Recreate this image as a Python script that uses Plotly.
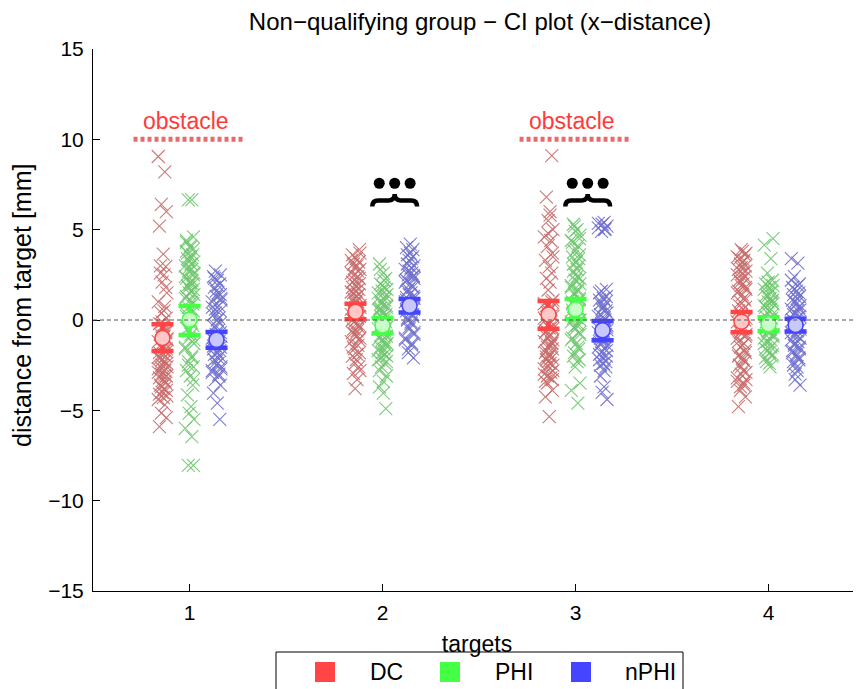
import plotly.graph_objects as go

# ---------------- data ----------------
targets = [1, 2, 3, 4]
groups = ["DC", "PHI", "nPHI"]
y_ticks = [-15, -10, -5, 0, 5, 10, 15]

dc_t1 = [9.05, 8.2, 6.4, 6.0, 5.2, 3.65, 2.95, 2.6, 2.5, 2.1, 1.5, 1.0, 0.75, 0.4, 0.1,
         -0.2, -0.4, -0.6, -0.8, -0.9, -1.0, -1.1, -1.2, -1.3, -1.5, -1.6, -1.8, -1.9, -2.0,
         -2.1, -2.3, -2.5, -2.6, -2.7, -2.8, -3.0, -3.1, -3.2, -3.3, -3.5, -3.6, -3.8, -4.0,
         -4.2, -4.4, -4.7, -5.15, -5.4, -5.9, -0.3, -0.7, -1.4, -1.7, -2.2, -2.4, -2.9,
         -3.4, -3.7, -3.9, -4.1, -4.3, 1.8, 3.0, 0.5, -0.1, -1.05, -2.05, -3.05, -2.65, -1.75]
phi_t1 = [6.65, 6.65, 4.6, 4.3, 4.0, 3.9, 3.7, 3.5, 3.3, 3.2, 3.0, 2.8, 2.7, 2.5, 2.3, 2.1,
          2.0, 1.9, 1.6, 1.5, 1.4, 1.2, 1.0, 0.7, 0.5, 0.2, 0.0, -0.3, -0.5, -0.8, -1.0,
          -1.3, -1.6, -2.0, -2.3, -2.6, -2.8, -3.1, -3.6, -4.15, -4.8, -5.15, -5.5, -6.0,
          -6.45, -8.05, -8.05, 4.4, 4.1, 3.6, 3.4, 3.1, 2.9, 2.6, 2.4, 2.2, 1.8, 1.7, 1.3,
          1.1, 0.9, 0.3, -0.1, -0.6, -1.1, -1.5, -2.1, -2.5, -3.3, 3.8, 2.0]
nphi_t1 = [2.7, 2.5, 2.4, 2.2, 2.0, 1.8, 1.5, 1.3, 1.1, 1.0, 0.8, 0.6, 0.5, 0.3, 0.0, -0.2,
           -0.4, -0.6, -0.8, -0.9, -1.0, -1.2, -1.4, -1.5, -1.6, -1.8, -2.0, -2.2, -2.4,
           -2.5, -2.6, -2.8, -3.0, -3.3, -3.6, -4.05, -4.6, -5.5, 2.3, 1.9, 1.6, 1.2, 0.7,
           0.1, -0.3, -0.7, -1.1, -1.3, -1.7, -1.9, -2.1, -2.3, -2.7, -2.9, -3.1, 0.4, 1.4,
           -1.45]

dc_t2 = [3.9, 3.6, 3.4, 3.2, 3.1, 3.0, 2.9, 2.8, 2.6, 2.4, 2.2, 2.0, 1.8, 1.6, 1.4, 1.2,
         1.1, 1.0, 0.8, 0.6, 0.5, 0.4, 0.2, 0.0, -0.2, -0.4, -0.5, -0.6, -0.8, -1.0, -1.2,
         -1.4, -1.6, -1.8, -2.0, -2.2, -2.6, -2.95, -3.3, -3.8, 3.7, 3.3, 2.7, 2.5, 2.3,
         2.1, 1.9, 1.7, 1.5, 1.3, 0.9, 0.7, 0.3, 0.1, -0.1, -0.3, -0.7, -0.9, -1.1, -1.5,
         -1.9, -2.4, -2.8, 1.55, 0.35]
phi_t2 = [3.1, 2.6, 2.3, 2.0, 1.8, 1.6, 1.4, 1.2, 1.1, 1.0, 0.8, 0.6, 0.4, 0.3, 0.2, 0.0,
          -0.2, -0.4, -0.5, -0.6, -0.8, -0.9, -1.0, -1.2, -1.4, -1.5, -1.6, -1.8, -2.0,
          -2.2, -2.4, -2.6, -3.1, -3.7, -4.05, -4.9, 2.8, 2.2, 1.9, 1.7, 1.5, 1.3, 0.9,
          0.7, 0.5, 0.1, -0.1, -0.3, -0.7, -1.1, -1.3, -1.7, -1.9, -2.1, -2.3, -2.8, -3.4,
          -0.45, 0.65]
nphi_t2 = [4.2, 3.9, 3.6, 3.4, 3.3, 3.0, 2.8, 2.6, 2.5, 2.4, 2.2, 2.0, 1.8, 1.6, 1.5, 1.4,
           1.2, 1.0, 0.9, 0.8, 0.6, 0.5, 0.4, 0.2, 0.0, -0.2, -0.4, -0.7, -1.0, -1.3, -1.6,
           -2.1, 4.0, 3.7, 3.5, 3.1, 2.9, 2.7, 2.3, 2.1, 1.9, 1.7, 1.3, 1.1, 0.7, 0.3, 0.1,
           -0.1, -0.5, -0.8, -1.1, -1.4, -1.8, 2.45, 1.25, 0.85]

dc_t3 = [9.1, 6.8, 6.0, 5.5, 5.0, 4.6, 4.4, 4.06, 3.7, 3.3, 2.95, 2.6, 2.3, 2.1, 1.66, 1.1,
         0.9, 0.6, 0.4, 0.3, 0.0, -0.2, -0.4, -0.6, -0.8, -1.0, -1.1, -1.2, -1.4, -1.5,
         -1.6, -1.8, -2.0, -2.1, -2.2, -2.4, -2.6, -2.8, -3.0, -3.2, -3.5, -3.9, -4.25,
         -5.35, 1.0, 0.8, 0.7, 0.5, 0.2, 0.1, -0.1, -0.3, -0.5, -0.7, -0.9, -1.3, -1.7,
         -1.9, -2.3, -2.5, -2.7, -2.9, -3.1, -3.3, -3.4, -0.45, -1.25, -2.05, 5.8, 4.8, 3.5]
phi_t3 = [5.3, 5.0, 4.9, 4.7, 4.4, 4.1, 3.8, 3.6, 3.5, 3.2, 3.0, 2.7, 2.4, 2.2, 2.0, 1.8,
          1.7, 1.5, 1.2, 1.0, 0.8, 0.6, 0.4, 0.3, 0.2, 0.0, -0.1, -0.2, -0.4, -0.7, -1.0,
          -1.3, -1.6, -2.0, -2.3, -2.6, -3.5, -3.9, -4.6, 5.2, 4.5, 4.3, 3.9, 3.4, 3.1,
          2.8, 2.5, 2.3, 1.9, 1.6, 1.4, 1.1, 0.9, 0.7, 0.5, 0.1, -0.3, -0.5, -0.8, -1.1,
          -1.5, -1.8, -2.2, 0.55, 0.15]
nphi_t3 = [5.4, 5.3, 5.2, 5.1, 5.0, 4.9, 1.7, 1.5, 1.2, 1.0, 0.9, 0.8, 0.6, 0.4, 0.2, 0.0,
           -0.2, -0.4, -0.5, -0.6, -0.8, -1.0, -1.1, -1.2, -1.4, -1.5, -1.6, -1.8, -2.0,
           -2.2, -2.4, -2.6, -3.1, -3.7, -4.0, -4.4, 5.35, 5.05, 1.6, 1.3, 1.1, 0.7, 0.5,
           0.3, 0.1, -0.1, -0.3, -0.7, -0.9, -1.3, -1.7, -1.9, -2.1, -2.3, -2.5, -2.8,
           -1.05, -0.55]

dc_t4 = [3.9, 3.7, 3.5, 3.3, 3.1, 3.0, 2.8, 2.6, 2.4, 2.2, 2.0, 1.9, 1.7, 1.5, 1.2, 1.0,
         0.7, 0.5, 0.2, 0.0, -0.3, -0.5, -0.6, -0.8, -1.0, -1.3, -1.5, -1.8, -2.0, -2.1,
         -2.3, -2.5, -2.8, -3.0, -3.3, -3.4, -3.6, -3.9, -4.25, -4.8, 3.8, 3.6, 3.4, 3.2,
         2.9, 2.7, 2.5, 2.3, 2.1, 1.8, 1.6, 1.4, 1.1, 0.8, 0.6, 0.3, 0.1, -0.1, -0.4, -0.7,
         -0.9, -1.2, -1.4, -1.7, -1.9, -2.2, -2.6, -2.9, -3.2, -3.5, -3.7]
phi_t4 = [4.5, 4.15, 3.4, 2.6, 2.2, 2.0, 1.8, 1.6, 1.4, 1.2, 1.0, 0.9, 0.8, 0.6, 0.4, 0.3,
          0.2, 0.0, -0.2, -0.4, -0.5, -0.6, -0.8, -1.0, -1.1, -1.2, -1.4, -1.6, -1.8,
          -2.0, -2.3, -2.6, 2.1, 1.9, 1.7, 1.5, 1.3, 1.1, 0.7, 0.5, 0.1, -0.1, -0.3, -0.7,
          -0.9, -1.3, -1.5, -1.7, -1.9, -2.1, -2.4, 1.0, -0.45, -0.15]
nphi_t4 = [3.4, 3.15, 2.4, 2.0, 1.8, 1.6, 1.5, 1.4, 1.2, 1.0, 0.8, 0.6, 0.5, 0.4, 0.2, 0.0,
           -0.2, -0.3, -0.4, -0.6, -0.8, -1.0, -1.1, -1.2, -1.4, -1.6, -1.8, -2.0, -2.2,
           -2.5, -2.8, -3.3, -3.6, 2.2, 1.9, 1.7, 1.3, 1.1, 0.9, 0.7, 0.3, 0.1, -0.1, -0.5,
           -0.7, -0.9, -1.3, -1.5, -1.7, -1.9, -2.1, -2.3, -2.6, -3.0, 0.55, -0.25]

dc_mean = [-1.0, 0.46, 0.31, -0.09]
dc_ci_hi = [-0.24, 0.90, 1.05, 0.44]
dc_ci_lo = [-1.71, 0.04, -0.48, -0.68]
phi_mean = [0.02, -0.31, 0.59, -0.24]
phi_ci_hi = [0.77, 0.10, 1.16, 0.15]
phi_ci_lo = [-0.83, -0.74, 0.04, -0.61]
nphi_mean = [-1.10, 0.79, -0.57, -0.28]
nphi_ci_hi = [-0.66, 1.16, -0.05, 0.07]
nphi_ci_lo = [-1.53, 0.42, -1.12, -0.63]

obstacle_targets = [1, 3]
obstacle_level = 10
brace_targets = [2, 3]

# ---------------- styling ----------------
FONT = "Liberation Sans, Arial, Helvetica, sans-serif"
offsets = [-0.14, 0.0, 0.14]
jitter = [-0.022, 0.012, -0.006, 0.020, -0.016, 0.004, 0.017, -0.011, 0.008, -0.002, 0.023]
scatter_colors = ["rgba(200,108,108,0.9)", "rgba(110,198,110,0.9)", "rgba(112,112,206,0.9)"]
bright = ["#ff4545", "#45ff45", "#4545ff"]
light = ["#ffc8c8", "#c8ffc8", "#c8c8ff"]

points = [[dc_t1, dc_t2, dc_t3, dc_t4],
          [phi_t1, phi_t2, phi_t3, phi_t4],
          [nphi_t1, nphi_t2, nphi_t3, nphi_t4]]
means = [dc_mean, phi_mean, nphi_mean]
his = [dc_ci_hi, phi_ci_hi, nphi_ci_hi]
los = [dc_ci_lo, phi_ci_lo, nphi_ci_lo]

fig = go.Figure()

for g in range(3):
    xs, ys = [], []
    for ti, t in enumerate(targets):
        vals = points[g][ti]
        for i, v in enumerate(vals):
            xs.append(t + offsets[g] + jitter[(i + 3 * ti + g) % len(jitter)])
            ys.append(v)
    fig.add_trace(go.Scatter(
        x=xs, y=ys, mode="markers", showlegend=False, hoverinfo="skip",
        marker=dict(symbol="x-thin", size=13,
                    line=dict(width=1.1, color=scatter_colors[g]))))

for g in range(3):
    fig.add_trace(go.Scatter(
        x=[t + offsets[g] for t in targets], y=means[g], mode="markers",
        showlegend=False, name=groups[g],
        error_y=dict(type="data", symmetric=False,
                     array=[h - m for h, m in zip(his[g], means[g])],
                     arrayminus=[m - l for m, l in zip(means[g], los[g])],
                     color=bright[g], thickness=4.5, width=11),
        marker=dict(symbol="circle", size=15, color=light[g],
                    line=dict(width=1.5, color=bright[g]))))

# zero reference line
fig.add_shape(type="line", xref="paper", yref="y", x0=0, x1=1, y0=0, y1=0,
              line=dict(color="#555555", width=1, dash="4px,3px"))

# obstacle markers
for t in obstacle_targets:
    fig.add_shape(type="line", xref="x", yref="y", x0=t - 0.29, x1=t + 0.28,
                  y0=obstacle_level, y1=obstacle_level,
                  line=dict(color="#e86a6a", width=5, dash="4px,3px"))
    fig.add_annotation(x=t - 0.02, y=obstacle_level + 1.0, xref="x", yref="y",
                       xanchor="center", yanchor="middle",
                       text="obstacle", showarrow=False,
                       font=dict(family=FONT, size=23, color="#ff3a3a"))

# braces with three dots
dot_x, dot_y = [], []
for t in brace_targets:
    xc = t + 0.063
    hw = 0.116
    d = 0.03
    yb, ym, yt = 6.28, 6.62, 6.97
    xa, xb = xc - hw, xc + hw
    path = (f"M {xa},{yb} Q {xa},{ym} {xa + d},{ym} L {xc - d},{ym} "
            f"Q {xc},{ym} {xc},{yt} Q {xc},{ym} {xc + d},{ym} "
            f"L {xb - d},{ym} Q {xb},{ym} {xb},{yb}")
    fig.add_shape(type="path", xref="x", yref="y", path=path,
                  line=dict(color="black", width=4.5))
    for k in (-1, 0, 1):
        dot_x.append(xc + 0.08 * k)
        dot_y.append(7.57)
fig.add_trace(go.Scatter(x=dot_x, y=dot_y, mode="markers", showlegend=False,
                         hoverinfo="skip",
                         marker=dict(symbol="circle", size=11, color="black")))

# ---------------- layout ----------------
# the page body adds an 8px offset; positions below are measured on the page
OFF = 8
W, H = 861 - OFF, 689 - OFF
L, R, T, B = 93 - OFF, 0, 49 - OFF, 98
PW, PH = W - L - R, H - T - B


def pxx(p):
    return (p - OFF - L) / PW


def pxy(p):
    return (H - B - (p - OFF)) / PH


# manual legend box
fig.add_shape(type="rect", xref="paper", yref="paper",
              x0=pxx(276), x1=pxx(683), y0=pxy(720), y1=pxy(652),
              line=dict(color="black", width=1), fillcolor="white", layer="above")
sq_centers = [325, 450, 581]
txt_left = [368, 493, 623]
for g in range(3):
    c = sq_centers[g]
    fig.add_shape(type="rect", xref="paper", yref="paper",
                  x0=pxx(c - 10), x1=pxx(c + 10), y0=pxy(682), y1=pxy(662),
                  line=dict(width=0), fillcolor=bright[g], layer="above")
    fig.add_annotation(x=pxx(txt_left[g]), y=pxy(672), xref="paper", yref="paper",
                       xanchor="left", yanchor="middle", text=groups[g],
                       showarrow=False, font=dict(family=FONT, size=23, color="black"))

# y axis title
fig.add_annotation(x=pxx(22), y=pxy(306), xref="paper", yref="paper",
                   xanchor="center", yanchor="middle",
                   text="distance from target [mm]", textangle=-90, showarrow=False,
                   font=dict(family=FONT, size=25, color="black"))

fig.update_layout(
    width=W, height=H,
    margin=dict(l=L, r=R, t=T, b=B, pad=0),
    paper_bgcolor="white", plot_bgcolor="white",
    font=dict(family=FONT, size=21, color="black"),
    title=dict(text="Non\u2212qualifying group \u2212 CI plot (x\u2212distance)",
               x=(480 - OFF) / W, xanchor="center", y=1 - (22 - OFF) / H,
               yanchor="middle", font=dict(family=FONT, size=24, color="black")),
    showlegend=False,
    xaxis=dict(range=[0.5, 4.479], tickvals=targets, ticktext=[str(t) for t in targets],
               showline=True, linecolor="black", linewidth=1, mirror=False,
               ticks="inside", ticklen=7, tickcolor="black", showgrid=False,
               zeroline=False, tickfont=dict(size=21), ticklabelstandoff=3,
               title=dict(text="targets", font=dict(size=23), standoff=12)),
    yaxis=dict(range=[-15, 15], tickvals=y_ticks, showline=True, linecolor="black",
               linewidth=1, mirror=False, ticks="inside", ticklen=7, tickcolor="black",
               showgrid=False, zeroline=False, tickfont=dict(size=21),
               ticklabelstandoff=4),
)

fig.write_html("out.html")
